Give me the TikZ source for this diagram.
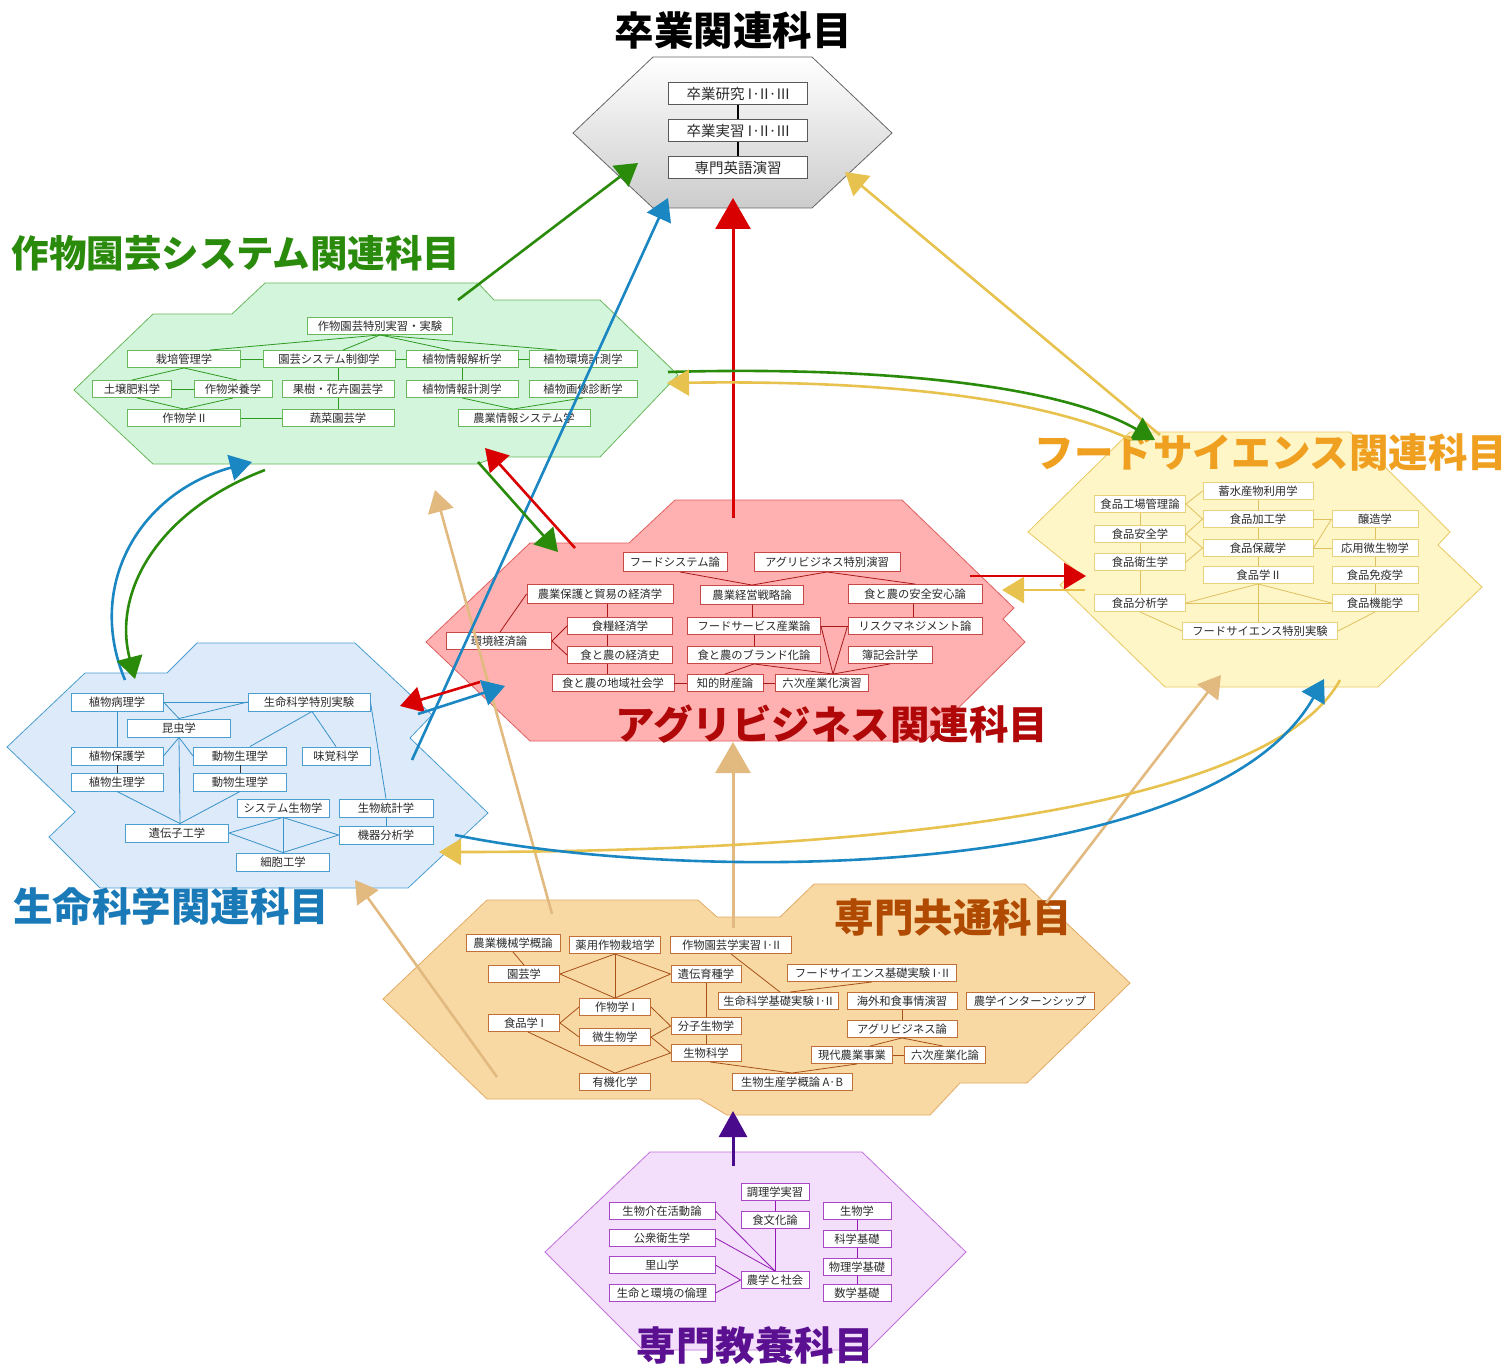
\documentclass[tikz,border=0pt]{standalone}
\usepackage{fontspec}
\setmainfont{Noto Sans CJK JP}
\usetikzlibrary{arrows.meta}

\definecolor{gfill}{HTML}{D2F5DC}
\definecolor{gedge}{HTML}{6AB85C}
\definecolor{gline}{HTML}{2E9A20}
\definecolor{gtitle}{HTML}{2A8A0C}
\definecolor{rfill}{HTML}{FFB0B0}
\definecolor{redge}{HTML}{E06060}
\definecolor{rbox}{HTML}{C84848}
\definecolor{rline}{HTML}{A81818}
\definecolor{rtitle}{HTML}{B00808}
\definecolor{yfill}{HTML}{FFF6C8}
\definecolor{yedge}{HTML}{E8C860}
\definecolor{ybox}{HTML}{EAD27A}
\definecolor{yline}{HTML}{E0C060}
\definecolor{ytitle}{HTML}{F0A020}
\definecolor{bfill}{HTML}{DCEAFA}
\definecolor{bedge}{HTML}{4A9ED0}
\definecolor{bline}{HTML}{3A92C8}
\definecolor{btitle}{HTML}{1A7AB8}
\definecolor{cfill}{HTML}{F8D9A4}
\definecolor{cedge}{HTML}{E2AA62}
\definecolor{cbox}{HTML}{C07038}
\definecolor{cline}{HTML}{A85018}
\definecolor{ctitle}{HTML}{B04A00}
\definecolor{pfill}{HTML}{F3DFFB}
\definecolor{pedge}{HTML}{C070D8}
\definecolor{pbox}{HTML}{A848C8}
\definecolor{pline}{HTML}{9418B4}
\definecolor{ptitle}{HTML}{5A1090}
\definecolor{agreen}{HTML}{2A8A0A}
\definecolor{ablue}{HTML}{1A86C2}
\definecolor{ared}{HTML}{D80000}
\definecolor{ayellow}{HTML}{E8C24E}
\definecolor{atan}{HTML}{E2BA80}
\definecolor{apurple}{HTML}{4A0A8C}
\definecolor{txt}{HTML}{2A2A2A}

\newcommand\bxf{\fontsize{11.3}{13}\selectfont}
\newcommand\gxf{\fontsize{14.5}{16}\selectfont}
\newcommand\ttlf{\fontsize{39.5}{42}\selectfont\bfseries}
\newcommand\ttlg{\fontsize{37.5}{40}\selectfont\bfseries}

\tikzset{
  bx/.style={draw=#1, fill=white, line width=0.9pt, inner sep=0pt, minimum height=17pt, font=\bxf, text=txt},
  gbx/.style={draw=black!65, fill=white, line width=1pt, inner sep=0pt, minimum width=139pt, minimum height=22pt, font=\gxf, text=txt},
  ln/.style={draw=#1, line width=0.8pt},
  hexa/.style 2 args={fill=#1, draw=#2, line width=0.8pt},
  arr/.style={line width=2.6pt, draw=#1, -{Triangle[length=22pt,width=26pt]}},
  bigarr/.style={line width=3pt, draw=#1, -{Triangle[length=31pt,width=35pt]}},
  ttl/.style={font=\ttlf, text=#1, inner sep=0pt},
}

\begin{document}
\begin{tikzpicture}[x=1pt,y=-1pt]
\useasboundingbox (0,0) rectangle (1512,1364);

% ---------------- hexagons ----------------
\path[draw=black!60, line width=0.8pt, top color=white, bottom color=black!20]
  (573,133) -- (653,57) -- (812,57) -- (892,133) -- (812,208) -- (653,208) -- cycle;
\path[hexa={gfill}{gedge}]
  (74,390) -- (153,314) -- (232,314) -- (265,283) -- (478,283) -- (494,300) -- (600,300)
  -- (678,375) -- (600,457) -- (497,457) -- (477,464) -- (153,464) -- cycle;
\path[hexa={rfill}{redge}]
  (426,642) -- (530,543) -- (629,543) -- (675,500) -- (902,500) -- (1014,608) -- (1003,619)
  -- (1025,642) -- (925,741) -- (530,741) -- cycle;
\path[hexa={yfill}{yedge}]
  (1028,532) -- (1130,432) -- (1350,432) -- (1450,532) -- (1438,545) -- (1482,587)
  -- (1378,687) -- (1165,687) -- (1060,585) -- (1075,570) -- cycle;
\path[hexa={bfill}{bedge}]
  (7,747) -- (85,673) -- (167,673) -- (197,643) -- (355,643) -- (432,715) -- (410,738)
  -- (488,813) -- (408,888) -- (100,888) -- (49,837) -- (75,812) -- cycle;
\path[hexa={cfill}{cedge}]
  (383,999) -- (487,900) -- (698,900) -- (717,917) -- (780,917) -- (814,884) -- (1025,884)
  -- (1130,983) -- (1027,1083) -- (960,1083) -- (930,1115) -- (727,1115) -- (700,1099)
  -- (487,1099) -- cycle;
\path[hexa={pfill}{pedge}]
  (545,1252) -- (650,1152) -- (862,1152) -- (966,1252) -- (868,1350) -- (643,1350) -- cycle;

% ---------------- graduation ----------------
\node[gbx] (g1) at (738,94) {卒業研究 I·II·III};
\node[gbx] (g2) at (738,131) {卒業実習 I·II·III};
\node[gbx] (g3) at (738,168) {専門英語演習};
\draw[line width=2pt] (g1) -- (g2);
\draw[line width=2pt] (g2) -- (g3);

% ---------------- crop / horticulture ----------------
\node[bx=gedge, minimum width=145pt] (cs0) at (380,326) {作物園芸特別実習・実験};
\node[bx=gedge, minimum width=113pt] (cs1) at (184,359) {栽培管理学};
\node[bx=gedge, minimum width=132pt] (cs2) at (329,359) {園芸システム制御学};
\node[bx=gedge, minimum width=112pt] (cs3) at (462,359) {植物情報解析学};
\node[bx=gedge, minimum width=108pt] (cs4) at (583,359) {植物環境計測学};
\node[bx=gedge, minimum width=79pt] (cs5) at (132,389) {土壌肥料学};
\node[bx=gedge, minimum width=78pt] (cs6) at (233,389) {作物栄養学};
\node[bx=gedge, minimum width=112pt] (cs7) at (338,389) {果樹・花卉園芸学};
\node[bx=gedge, minimum width=112pt] (cs8) at (462,389) {植物情報計測学};
\node[bx=gedge, minimum width=108pt] (cs9) at (583,389) {植物画像診断学};
\node[bx=gedge, minimum width=113pt] (cs10) at (184,418) {作物学 II};
\node[bx=gedge, minimum width=112pt] (cs11) at (338,418) {蔬菜園芸学};
\node[bx=gedge, minimum width=132pt] (cs12) at (524,418) {農業情報システム学};
\draw[ln=gline] (cs0.south) -- ([xshift=26pt]cs1.north);
\draw[ln=gline] (cs0.south) -- ([xshift=14pt]cs2.north);
\draw[ln=gline] (cs0.south) -- ([xshift=-12pt]cs3.north);
\draw[ln=gline] (cs0.south) -- ([xshift=-26pt]cs4.north);
\draw[ln=gline] (cs1.east) -- (cs2.west);
\draw[ln=gline] (cs2.east) -- (cs3.west);
\draw[ln=gline] (cs3.east) -- (cs4.west);
\draw[ln=gline] (cs1.south) -- (cs5.north);
\draw[ln=gline] (cs1.south) -- ([xshift=4pt]cs6.north);
\draw[ln=gline] (cs5.east) -- (cs6.west);
\draw[ln=gline] ([xshift=5pt]cs5.south) -- (cs10.north);
\draw[ln=gline] (cs6.south) -- (cs10.north);
\draw[ln=gline] (cs10.east) -- (cs11.west);
\draw[ln=gline] (cs7.north) -- (cs7.north |- cs2.south);
\draw[ln=gline] (cs7.south) -- (cs11.north);
\draw[ln=gline] (cs3.south) -- (cs8.north);
\draw[ln=gline] (cs8.south) -- ([xshift=-11pt]cs12.north);
\draw[ln=gline] (cs9.south) -- ([xshift=-11pt]cs12.north);

% ---------------- agribusiness ----------------
\node[bx=rbox, minimum width=104pt, minimum height=19pt] (a1) at (675,562) {フードシステム論};
\node[bx=rbox, minimum width=146pt, minimum height=19pt] (a2) at (827,562) {アグリビジネス特別演習};
\node[bx=rbox, minimum width=146pt, minimum height=19pt] (a3) at (600,594) {農業保護と貿易の経済学};
\node[bx=rbox, minimum width=103pt, minimum height=19pt] (a4) at (752,595) {農業経営戦略論};
\node[bx=rbox, minimum width=134pt, minimum height=19pt] (a5) at (915,594) {食と農の安全安心論};
\node[bx=rbox, minimum width=105pt] (a6) at (499,641) {環境経済論};
\node[bx=rbox, minimum width=105pt] (a7) at (620,626) {食糧経済学};
\node[bx=rbox, minimum width=133pt] (a8) at (754,626) {フードサービス産業論};
\node[bx=rbox, minimum width=134pt] (a9) at (915,626) {リスクマネジメント論};
\node[bx=rbox, minimum width=105pt] (a10) at (620,655) {食と農の経済史};
\node[bx=rbox, minimum width=133pt] (a11) at (754,655) {食と農のブランド化論};
\node[bx=rbox, minimum width=84pt] (a12) at (890,655) {簿記会計学};
\node[bx=rbox, minimum width=122pt] (a13) at (613,683) {食と農の地域社会学};
\node[bx=rbox, minimum width=76pt] (a14) at (725,683) {知的財産論};
\node[bx=rbox, minimum width=93pt] (a15) at (822,683) {六次産業化演習};
\draw[ln=rline] ([xshift=5pt]a1.south) -- (a4.north);
\draw[ln=rline] (a2.south) -- (a4.north);
\draw[ln=rline] (a2.south) -- (a5.north);
\draw[ln=rline] ([xshift=7pt]a3.south) -- ([xshift=-13pt]a7.north);
\draw[ln=rline] ([xshift=-13pt]a7.south) -- ([xshift=-13pt]a10.north);
\draw[ln=rline] ([xshift=-13pt]a10.south) -- ([xshift=-6pt]a13.north);
\draw[ln=rline] ([xshift=1pt]a6.north) -- (a3.west);
\draw[ln=rline] (a6.east) -- (a7.west);
\draw[ln=rline] (a6.east) -- (a10.west);
\draw[ln=rline] (a13.east) -- (a14.west);
\draw[ln=rline] (a14.east) -- (a15.west);
\draw[ln=rline] (a4.south) -- (a4.south |- a8.north);
\draw[ln=rline] (a8.south) -- (a8.south |- a11.north);
\draw[ln=rline] ([xshift=-2pt]a5.south) -- ([xshift=-2pt]a9.north);
\draw[ln=rline] (a8.east) -- (a9.west);
\draw[ln=rline] (a8.east) -- ([xshift=11pt]a15.north);
\draw[ln=rline] (a9.west) -- ([xshift=11pt]a15.north);
\draw[ln=rline] (a11.south) -- ([xshift=11pt]a15.north);
\draw[ln=rline] (a12.south) -- ([xshift=11pt]a15.north);
\draw[ln=rline] (a11.south) -- (a14.north);

% ---------------- food science ----------------
\node[bx=ybox, minimum width=91pt] (f1) at (1140,504) {食品工場管理論};
\node[bx=ybox, minimum width=110pt] (f2) at (1258,491) {蓄水産物利用学};
\node[bx=ybox, minimum width=110pt] (f3) at (1258,519) {食品加工学};
\node[bx=ybox, minimum width=86pt] (f4) at (1375,519) {醸造学};
\node[bx=ybox, minimum width=91pt] (f5) at (1140,534) {食品安全学};
\node[bx=ybox, minimum width=110pt] (f6) at (1258,548) {食品保蔵学};
\node[bx=ybox, minimum width=86pt] (f7) at (1375,548) {応用微生物学};
\node[bx=ybox, minimum width=91pt] (f8) at (1140,562) {食品衛生学};
\node[bx=ybox, minimum width=110pt] (f9) at (1258,575) {食品学 II};
\node[bx=ybox, minimum width=86pt] (f10) at (1375,575) {食品免疫学};
\node[bx=ybox, minimum width=91pt] (f11) at (1140,603) {食品分析学};
\node[bx=ybox, minimum width=86pt] (f12) at (1375,603) {食品機能学};
\node[bx=ybox, minimum width=155pt] (f13) at (1260,631) {フードサイエンス特別実験};
\draw[ln=yline] (f1.east) -- (f2.west);
\draw[ln=yline] (f1.east) -- (f3.west);
\draw[ln=yline] (f5.east) -- (f3.west);
\draw[ln=yline] (f5.east) -- (f6.west);
\draw[ln=yline] (f8.east) -- (f6.west);
\draw[ln=yline] (f1.south) -- (f5.north);
\draw[ln=yline] (f5.south) -- (f8.north);
\draw[ln=yline] (f8.south) -- (f11.north);
\draw[ln=yline] (f2.south) -- (f3.north);
\draw[ln=yline] (f3.south) -- (f6.north);
\draw[ln=yline] (f6.south) -- (f9.north);
\draw[ln=yline] (f9.south) -- ([xshift=-2pt]f13.north);
\draw[ln=yline] (f9.south) -- (f11.east);
\draw[ln=yline] (f9.south) -- (f12.west);
\draw[ln=yline] (f11.east) -- (f12.west);
\draw[ln=yline] (f11.south) -- (f13.west);
\draw[ln=yline] (f12.south) -- (f13.east);
\draw[ln=yline] (f3.east) -- (f4.west);
\draw[ln=yline] (f6.east) -- (f7.west);
\draw[ln=yline] (f6.east) -- (f4.west);
\draw[ln=yline] (f4.south) -- (f7.north);
\draw[ln=yline] (f7.south) -- (f10.north);
\draw[ln=yline] (f10.south) -- (f12.north);

% ---------------- life science ----------------
\node[bx=bedge, minimum width=92pt, minimum height=18pt] (l1) at (117,702) {植物病理学};
\node[bx=bedge, minimum width=122pt, minimum height=18pt] (l2) at (309,702) {生命科学特別実験};
\node[bx=bedge, minimum width=103pt, minimum height=18pt] (l3) at (179,728) {昆虫学};
\node[bx=bedge, minimum width=92pt, minimum height=18pt] (l4) at (117,756) {植物保護学};
\node[bx=bedge, minimum width=93pt, minimum height=18pt] (l5) at (240,756) {動物生理学};
\node[bx=bedge, minimum width=68pt, minimum height=18pt] (l6) at (336,756) {味覚科学};
\node[bx=bedge, minimum width=92pt, minimum height=18pt] (l7) at (117,782) {植物生理学};
\node[bx=bedge, minimum width=93pt, minimum height=18pt] (l8) at (240,782) {動物生理学};
\node[bx=bedge, minimum width=92pt, minimum height=18pt] (l9) at (283,808) {システム生物学};
\node[bx=bedge, minimum width=94pt, minimum height=18pt] (l10) at (386,808) {生物統計学};
\node[bx=bedge, minimum width=103pt, minimum height=18pt] (l11) at (177,833) {遺伝子工学};
\node[bx=bedge, minimum width=94pt, minimum height=18pt] (l12) at (386,835) {機器分析学};
\node[bx=bedge, minimum width=93pt, minimum height=18pt] (l13) at (283,862) {細胞工学};
\draw[ln=bline] (l1.east) -- (l2.west);
\draw[ln=bline] (l1.east) -- (l3.north);
\draw[ln=bline] (l2.west) -- (l3.north);
\draw[ln=bline] (l1.south) -- (l4.north);
\draw[line width=0.9pt, black!80] (l4.south) -- (l7.north);
\draw[line width=0.9pt, black!80] (l5.south) -- (l8.north);
\draw[ln=bline] (l3.south) -- (l4.east);
\draw[ln=bline] (l3.south) -- (l5.west);
\draw[ln=bline] (l3.south) -- ([xshift=3pt]l11.north);
\draw[ln=bline] (l7.south) -- ([xshift=3pt]l11.north);
\draw[ln=bline] (l8.south) -- ([xshift=3pt]l11.north);
\draw[ln=bline] ([xshift=3pt]l2.south) -- ([xshift=10pt]l5.north);
\draw[ln=bline] ([xshift=3pt]l2.south) -- (l6.north);
\draw[ln=bline] (l2.east) -- (l10.north);
\draw[ln=bline] (l10.south) -- (l12.north);
\draw[ln=bline] (l11.east) -- (l9.south) -- (l12.west) -- (l13.north) -- (l11.east);
\draw[ln=bline] (l9.south) -- (l13.north);

% ---------------- common ----------------
\node[bx=cbox, minimum width=94pt] (c1) at (513,943) {農業機械学概論};
\node[bx=cbox, minimum width=91pt] (c2) at (615,945) {薬用作物栽培学};
\node[bx=cbox, minimum width=121pt] (c3) at (731,945) {作物園芸学実習 I·II};
\node[bx=cbox, minimum width=71pt] (c4) at (524,974) {園芸学};
\node[bx=cbox, minimum width=70pt] (c5) at (706,974) {遺伝育種学};
\node[bx=cbox, minimum width=169pt] (c6) at (872,973) {フードサイエンス基礎実験 I·II};
\node[bx=cbox, minimum width=120pt] (c7) at (778,1001) {生命科学基礎実験 I·II};
\node[bx=cbox, minimum width=110pt] (c8) at (902,1001) {海外和食事情演習};
\node[bx=cbox, minimum width=128pt] (c9) at (1030,1001) {農学インターンシップ};
\node[bx=cbox, minimum width=71pt] (c10) at (615,1007) {作物学 I};
\node[bx=cbox, minimum width=71pt] (c11) at (524,1023) {食品学 I};
\node[bx=cbox, minimum width=70pt] (c12) at (706,1026) {分子生物学};
\node[bx=cbox, minimum width=71pt] (c13) at (615,1037) {微生物学};
\node[bx=cbox, minimum width=110pt] (c14) at (902,1029) {アグリビジネス論};
\node[bx=cbox, minimum width=70pt] (c15) at (706,1053) {生物科学};
\node[bx=cbox, minimum width=81pt] (c16) at (852,1055) {現代農業事業};
\node[bx=cbox, minimum width=81pt] (c17) at (945,1055) {六次産業化論};
\node[bx=cbox, minimum width=71pt] (c18) at (615,1082) {有機化学};
\node[bx=cbox, minimum width=120pt] (c19) at (792,1082) {生物生産学概論 A·B};
\draw[ln=cline] (c1.south) -- (c4.north);
\draw[ln=cline] (c2.south) -- (c4.east);
\draw[ln=cline] (c2.south) -- (c5.west);
\draw[ln=cline] (c2.south) -- (c10.north);
\draw[ln=cline] (c4.east) -- (c10.north);
\draw[ln=cline] (c5.west) -- (c10.north);
\draw[ln=cline] (c3.south) -- ([xshift=2pt]c7.north);
\draw[ln=cline] (c6.south) -- ([xshift=12pt]c7.north);
\draw[ln=cline] (c5.south) -- (c12.north);
\draw[ln=cline] (c12.south) -- (c15.north);
\draw[ln=cline] (c11.east) -- (c10.west);
\draw[ln=cline] (c11.east) -- (c13.west);
\draw[ln=cline] (c10.east) -- (c12.west);
\draw[ln=cline] (c13.east) -- (c12.west);
\draw[ln=cline] (c13.east) -- (c15.west);
\draw[ln=cline] ([xshift=4pt]c11.south) -- (c18.north);
\draw[ln=cline] (c15.west) -- (c18.north);
\draw[ln=cline] ([xshift=4pt]c15.south) -- (c19.north);
\draw[ln=cline] (c19.north) -- ([xshift=5pt]c16.south);
\draw[ln=cline] (c8.south) -- (c14.north);
\draw[ln=cline] (c14.south) -- ([xshift=18pt]c16.north);
\draw[ln=cline] (c14.south) -- ([xshift=-2pt]c17.north);
\draw[ln=cline] (c16.east) -- (c17.west);

% ---------------- liberal arts ----------------
\node[bx=pbox, minimum width=68pt] (p1) at (775,1192) {調理学実習};
\node[bx=pbox, minimum width=106pt] (p2) at (662,1211) {生物介在活動論};
\node[bx=pbox, minimum width=68pt] (p3) at (775,1220) {食文化論};
\node[bx=pbox, minimum width=68pt] (p4) at (857,1211) {生物学};
\node[bx=pbox, minimum width=106pt] (p5) at (662,1238) {公衆衛生学};
\node[bx=pbox, minimum width=68pt] (p6) at (857,1239) {科学基礎};
\node[bx=pbox, minimum width=106pt] (p7) at (662,1265) {里山学};
\node[bx=pbox, minimum width=68pt] (p8) at (857,1267) {物理学基礎};
\node[bx=pbox, minimum width=68pt] (p9) at (775,1280) {農学と社会};
\node[bx=pbox, minimum width=106pt] (p10) at (662,1293) {生命と環境の倫理};
\node[bx=pbox, minimum width=68pt] (p11) at (857,1293) {数学基礎};
\draw[ln=pline] (p1.south) -- (p3.north);
\draw[ln=pline] (p3.south) -- (p9.north);
\draw[ln=pline] (p2.east) -- (p9.north);
\draw[ln=pline] (p5.east) -- (p9.north);
\draw[ln=pline] (p7.east) -- (p9.west);
\draw[ln=pline] (p10.east) -- (p9.west);
\draw[ln=pline] (p4.south) -- (p6.north);
\draw[ln=pline] (p6.south) -- (p8.north);
\draw[ln=pline] (p8.south) -- (p11.north);

% ---------------- titles ----------------
\node[ttl=black] (t0) at (733,30) {卒業関連科目};
\node[font=\ttlg, text=gtitle, inner sep=0pt] (t1) at (236,253) {作物園芸システム関連科目};
\node[ttl=ytitle] (t2) at (1271,452) {フードサイエンス関連科目};
\node[ttl=rtitle] (t3) at (832,724) {アグリビジネス関連科目};
\node[ttl=btitle] (t4) at (171,906) {生命科学関連科目};
\node[ttl=ctitle] (t5) at (953,917) {専門共通科目};
\node[ttl=ptitle] (t6) at (755,1345) {専門教養科目};

% ---------------- arrow end points ----------------
\coordinate (e1s) at (458,300);  \coordinate (e1e) at (638,163);
\coordinate (e2s) at (412,760);  \coordinate (e2e) at (668,198);
\coordinate (e3s) at (733,518);  \coordinate (e3e) at (733,198);
\coordinate (e4s) at (1160,435); \coordinate (e4e) at (845,172);
\coordinate (e5s) at (668,372);  \coordinate (e5e) at (1155,440);
\coordinate (e6s) at (1132,440); \coordinate (e6e) at (667,383);
\coordinate (e7s) at (478,462);  \coordinate (e7e) at (558,552);
\coordinate (e8s) at (575,548);  \coordinate (e8e) at (485,448);
\coordinate (e9s) at (125,680);  \coordinate (e9e) at (252,462);
\coordinate (e10s) at (265,470); \coordinate (e10e) at (135,679);
\coordinate (e11s) at (480,682); \coordinate (e11e) at (400,706);
\coordinate (e12s) at (418,714); \coordinate (e12e) at (505,686);
\coordinate (e13s) at (970,576); \coordinate (e13e) at (1086,576);
\coordinate (e14s) at (1085,590); \coordinate (e14e) at (1002,590);
\coordinate (e15s) at (455,835); \coordinate (e15e) at (1324,679);
\coordinate (e16s) at (1340,680); \coordinate (e16e) at (439,852);
\coordinate (e17s) at (552,914); \coordinate (e17e) at (435,490);
\coordinate (e18s) at (733,928); \coordinate (e18e) at (733,742);
\coordinate (e19s) at (1046,903); \coordinate (e19e) at (1221,675);
\coordinate (e20s) at (497,1077); \coordinate (e20e) at (355,880);
\coordinate (e21s) at (733,1166); \coordinate (e21e) at (733,1111);

% ---------------- arrows ----------------
\draw[arr=atan] (e17s) -- (e17e);
\draw[bigarr=atan] (e18s) -- (e18e);
\draw[arr=atan] (e19s) -- (e19e);
\draw[arr=atan] (e20s) -- (e20e);
\draw[arr=ayellow] (e16s) .. controls (1262,822) and (800,852) .. (e16e);
\draw[arr=ablue] (e15s) .. controls (700,885) and (1210,880) .. (e15e);
\draw[arr=agreen] (e1s) -- (e1e);
\draw[arr=ablue] (e2s) -- (e2e);
\draw[bigarr=ared] (e3s) -- (e3e);
\draw[arr=ayellow] (e4s) -- (e4e);
\draw[arr=agreen] (e5s) .. controls (880,366) and (1060,385) .. (e5e);
\draw[arr=ayellow] (e6s) .. controls (1040,397) and (880,380) .. (e6e);
\draw[arr=agreen] (e7s) -- (e7e);
\draw[arr=ared] (e8s) -- (e8e);
\draw[arr=ablue] (e9s) .. controls (85,585) and (140,492) .. (e9e);
\draw[arr=agreen] (e10s) .. controls (160,510) and (112,590) .. (e10e);
\draw[arr=ared] (e11s) -- (e11e);
\draw[arr=ablue] (e12s) -- (e12e);
\draw[arr=ared] (e13s) -- (e13e);
\draw[arr=ayellow] (e14s) -- (e14e);
\draw[line width=3pt, draw=apurple, -{Triangle[length=26pt,width=28pt]}] (e21s) -- (e21e);
\end{tikzpicture}
\end{document}
